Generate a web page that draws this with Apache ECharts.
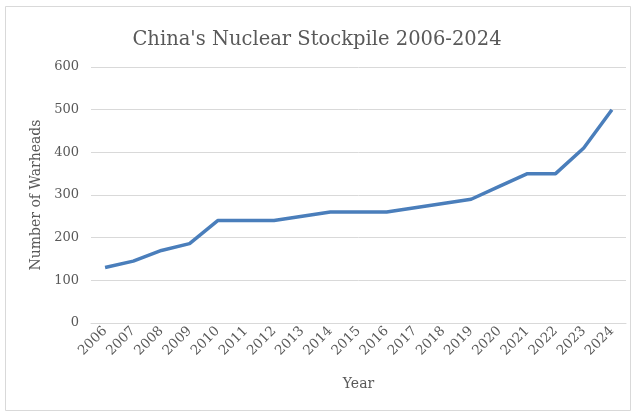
<!DOCTYPE html>
<html>
<head>
<meta charset="utf-8">
<script src="https://cdn.jsdelivr.net/npm/echarts@6/dist/echarts.min.js"></script>
<style>html,body{margin:0;padding:0;background:#fff}#c{width:634px;height:413px}</style>
</head>
<body>
<div id="c"></div>
<script>
const years = ['2006','2007','2008','2009','2010','2011','2012','2013','2014','2015','2016','2017','2018','2019','2020','2021','2022','2023','2024'];
const warheads = [130,145,170,186,240,240,240,250,260,260,260,270,280,290,320,350,350,410,500];
const titleText = "China's Nuclear Stockpile 2006-2024";
const yName = 'Number of Warheads';
const xName = 'Year';

const font = '"DejaVu Serif", "Liberation Serif", serif';
const grey = '#595959';
const chart = echarts.init(document.getElementById('c'), null, {renderer: 'canvas'});
chart.setOption({
  animation: false,
  backgroundColor: '#fff',
  graphic: [{type: 'rect', shape: {x: 5.5, y: 6.5, width: 625, height: 404}, style: {fill: 'none', stroke: '#d9d9d9', lineWidth: 1}, silent: true}],
  title: {text: titleText, left: 'center', top: 25, textStyle: {fontFamily: font, fontSize: 19.5, fontWeight: 'normal', color: grey}},
  grid: {left: 91, right: 8, top: 67, bottom: 90},
  xAxis: {
    type: 'category', data: years, boundaryGap: true,
    name: xName, nameLocation: 'middle', nameGap: 54,
    nameTextStyle: {fontFamily: font, fontSize: 14, color: grey},
    axisLine: {lineStyle: {color: '#d9d9d9', width: 1}},
    axisTick: {show: false},
    axisLabel: {rotate: 45, interval: 0, fontFamily: font, fontSize: 13.5, color: grey, margin: 6}
  },
  yAxis: {
    type: 'value', min: 0, max: 600, interval: 100,
    name: yName, nameLocation: 'middle', nameGap: 45,
    nameTextStyle: {fontFamily: font, fontSize: 14, color: grey},
    axisLine: {show: false}, axisTick: {show: false},
    axisLabel: {fontFamily: font, fontSize: 13, color: grey, margin: 12},
    splitLine: {lineStyle: {color: '#d9d9d9', width: 1}}
  },
  series: [{type: 'line', data: warheads, symbol: 'none', lineStyle: {color: '#4a7ebb', width: 3.5}, itemStyle: {color: '#4a7ebb'}}]
});
</script>
</body>
</html>
